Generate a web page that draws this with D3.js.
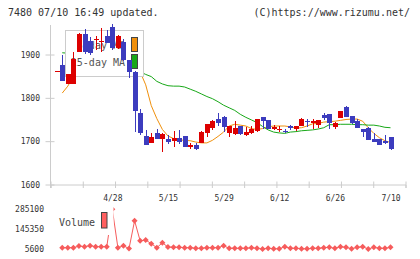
<!DOCTYPE html>
<html>
<head>
<meta charset="utf-8">
<script src="https://cdn.jsdelivr.net/npm/d3@7"></script>
<style>
  body { margin: 0; background: #fff; }
  svg { display: block; font-family: "DejaVu Sans Mono", monospace; }
</style>
</head>
<body>
<div id="chart"></div>
<script>
// trading days 2025/04/14 .. 2025/07/10
const dates = ["4/14","4/15","4/16","4/17","4/18","4/21","4/22","4/23","4/24","4/25",
  "4/28","4/30","5/1","5/2","5/7","5/8","5/9","5/12","5/13","5/14",
  "5/15","5/16","5/19","5/20","5/21","5/22","5/23","5/26","5/27","5/28",
  "5/29","5/30","6/2","6/3","6/4","6/5","6/6","6/9","6/10","6/11",
  "6/12","6/13","6/16","6/17","6/18","6/19","6/20","6/23","6/24","6/25",
  "6/26","6/27","6/30","7/1","7/2","7/3","7/4","7/7","7/8","7/9","7/10"];

const open = [1861,1875,1833,1833,1906,1948,1931,1934,1928,1942,
  1964,1914,1929,1887,1860,1764,1711,1696,1719,1704,
  1704,1700,1707,1711,1687,1691,1696,1719,1731,1751,
  1756,1718,1716,1734,1714,1719,1724,1755,1748,1729,
  1727,1723,1734,1729,1734,1747,1742,1737,1760,1762,
  1733,1754,1778,1758,1746,1728,1731,1704,1704,1700,1710];
const high = [1861,1898,1856,1906,1949,1958,1940,1942,1961,1956,
  1970,1944,1935,1888,1861,1775,1725,1720,1727,1720,
  1714,1723,1725,1712,1696,1695,1724,1740,1748,1765,
  1757,1735,1746,1735,1733,1734,1752,1756,1749,1738,
  1734,1729,1738,1735,1754,1751,1751,1749,1764,1763,
  1744,1770,1781,1758,1752,1728,1732,1718,1705,1714,1710];
const low = [1861,1839,1833,1833,1905,1902,1898,1910,1906,1927,
  1910,1912,1886,1845,1722,1714,1692,1696,1705,1675,
  1693,1687,1693,1686,1683,1679,1695,1710,1725,1734,
  1721,1710,1715,1714,1713,1716,1722,1727,1728,1725,
  1721,1718,1725,1724,1734,1733,1728,1731,1748,1729,
  1729,1753,1755,1740,1731,1710,1702,1698,1692,1694,1680];
const close = [1861,1839,1855,1889,1948,1906,1904,1935,1932,1927,
  1914,1943,1887,1860,1770,1719,1692,1710,1706,1716,
  1697,1707,1697,1687,1691,1683,1721,1739,1747,1742,
  1733,1734,1731,1716,1721,1727,1751,1746,1729,1733,
  1728,1722,1731,1734,1751,1746,1747,1748,1754,1741,
  1743,1769,1756,1741,1731,1721,1702,1698,1692,1695,1681];

const ma5 = [null,1811,1827,1850,1878,1887,1900,1916,1925,1921,
  1922,1930,1921,1906,1875,1860,1830,1782,1752,1727,
  1712,1706,1703,1702,1701,1698,1696,1696,1702,1711,
  1721,1735,1739,1737,1735,1729,1727,1729,1733,1735,
  1735,1735,1733,1730,1731,1735,1740,1741,1744,1745,
  1746,1748,1750,1751,1751,1746,1731,1718,1708,1701,1697];
const ma25 = [null,1904,1903,1901,1900,1899,1898,1897,1896,1895,
  1893,1891,1886,1879,1870,1860,1854,1849,1838,1832,
  1828,1827,1827,1825,1820,1815,1809,1803,1798,1791,
  1783,1777,1771,1762,1755,1749,1743,1734,1726,1721,
  1719,1718,1721,1722,1724,1725,1726,1728,1731,1738,
  1738,1739,1739,1739,1738,1738,1737,1737,1735,1732,1731];

const volume = [null,14800,14800,14800,26000,21800,28800,21800,21800,21800,
  285100,14800,28800,8400,204800,63000,69000,43000,14800,50000,
  19000,17600,17600,14800,14800,10500,10500,14800,14800,14800,
  28800,10500,10500,10500,10500,14800,10500,5600,10500,7000,
  7000,21800,10500,10500,7000,7000,10500,10500,14800,17600,
  10500,21800,17600,7000,17600,21800,5600,17600,10500,10500,17600];

const priceTicks = [1600, 1700, 1800, 1900];
const volumeTicks = [5600, 145350, 285100];
const dateLabels = ["4/28", "5/15", "5/29", "6/12", "6/26", "7/10"];
const legendItems = [{ name: "5-day MA", color: "#f0900c" }, { name: "25-day MA", color: "#18a818" }];

const width = 420, height = 259;
const upColor = "#dd0000", downColor = "#3c3cbe", volColor = "#f65c5c", axisColor = "#cccccc";

const svg = d3.select("#chart").append("svg")
  .attr("width", width)
  .attr("height", height);

// scales
const xScale = d3.scaleLinear().domain([0, dates.length - 1]).range([56.7, 390.5]);
const yScale = d3.scaleLinear().domain([1600, 1900]).range([184.5, 54.5]);
const vScale = d3.scaleLinear().domain([5600, 285100]).range([249, 209.3]);
const gridScale = d3.scaleLinear().domain([0, 11]).range([50.5, 405.5]);
const px = i => Math.round(xScale(i)) + 0.5;

// header
svg.append("text").attr("x", 8).attr("y", 15.5)
  .attr("font-size", 10).attr("fill", "#333")
  .text("7480 07/10 16:49 updated.");
svg.append("text").attr("x", 410).attr("y", 15.5)
  .attr("text-anchor", "end").attr("font-size", 10).attr("fill", "#333")
  .text("(C)https://www.rizumu.net/");

// y axis
const yAxis = d3.axisLeft(yScale).tickValues(priceTicks).tickFormat(d => String(d))
  .tickSize(5).tickPadding(5.5);
svg.append("g")
  .attr("transform", "translate(50.5,0)")
  .call(yAxis)
  .call(g => g.select(".domain").remove())
  .call(g => g.selectAll(".tick line").attr("x1", 4).attr("x2", -5).attr("stroke", axisColor))
  .call(g => g.selectAll(".tick text").attr("fill", "#333").attr("font-size", 8)
    .attr("font-family", "DejaVu Sans Mono"));
svg.append("line")
  .attr("x1", 50.5).attr("x2", 50.5)
  .attr("y1", 25).attr("y2", 188)
  .attr("stroke", axisColor);

// x axis (grid ticks + labels at candle dates)
const gridAxis = d3.axisBottom(gridScale).tickValues(d3.range(12)).tickFormat("").tickSizeOuter(0).tickSize(3.5);
svg.append("g")
  .attr("transform", "translate(0,184.5)")
  .call(gridAxis)
  .call(g => g.select(".domain").attr("stroke", axisColor))
  .call(g => g.selectAll(".tick line").attr("y1", -3).attr("stroke", axisColor));

const xAxis = d3.axisBottom(xScale)
  .tickValues(dateLabels.map(d => dates.indexOf(d)))
  .tickFormat(i => dates[i])
  .tickSize(0).tickPadding(11.3);
svg.append("g")
  .attr("transform", "translate(0,184.5)")
  .call(xAxis)
  .call(g => g.select(".domain").remove())
  .call(g => g.selectAll(".tick text").attr("fill", "#333").attr("font-size", 8)
    .attr("font-family", "DejaVu Sans Mono"));

// moving averages
const maLine = d3.line()
  .defined(d => d != null)
  .x((d, i) => xScale(i))
  .y(d => yScale(d));
svg.append("path").attr("d", maLine(ma5))
  .attr("fill", "none").attr("stroke", legendItems[0].color).attr("stroke-width", 1);
svg.append("path").attr("d", maLine(ma25))
  .attr("fill", "none").attr("stroke", legendItems[1].color).attr("stroke-width", 1);

// legend (drawn under the candles)
const legend = svg.append("g");
legend.append("rect")
  .attr("x", 65.5).attr("y", 30.5).attr("width", 78).attr("height", 46)
  .attr("fill", "#fff").attr("stroke", axisColor);
legend.selectAll("text.leg")
  .data(legendItems)
  .join("text")
  .attr("class", "leg")
  .attr("x", 125).attr("y", (d, i) => 49 + i * 17)
  .attr("text-anchor", "end").attr("font-size", 10).attr("fill", "#555")
  .text(d => d.name);
legend.selectAll("rect.sw")
  .data(legendItems)
  .join("rect")
  .attr("class", "sw")
  .attr("x", 131.5).attr("y", (d, i) => 37.5 + i * 17)
  .attr("width", 6).attr("height", 14)
  .attr("fill", d => d.color).attr("stroke", "#444");

// candles
const idx = d3.range(dates.length);
const candles = svg.append("g").attr("shape-rendering", "crispEdges");
candles.selectAll("line.wick")
  .data(idx)
  .join("line")
  .attr("class", "wick")
  .attr("x1", px).attr("x2", px)
  .attr("y1", i => yScale(high[i])).attr("y2", i => yScale(low[i]))
  .attr("stroke", i => close[i] >= open[i] ? upColor : downColor);
candles.selectAll("rect.body")
  .data(idx)
  .join("rect")
  .attr("class", "body")
  .attr("x", i => px(i) - 2.5)
  .attr("width", 5)
  .attr("y", i => yScale(Math.max(open[i], close[i])))
  .attr("height", i => Math.max(1, Math.abs(yScale(open[i]) - yScale(close[i]))))
  .attr("fill", i => close[i] >= open[i] ? upColor : downColor);

// volume
const vAxis = d3.axisLeft(vScale).tickValues(volumeTicks).tickFormat(d => String(d))
  .tickSize(0).tickPadding(6.5);
svg.append("g")
  .attr("transform", "translate(50.5,0)")
  .call(vAxis)
  .call(g => g.select(".domain").remove())
  .call(g => g.selectAll(".tick text").attr("fill", "#333").attr("font-size", 8)
    .attr("font-family", "DejaVu Sans Mono"));

const volLine = d3.line()
  .defined(d => d != null)
  .x((d, i) => xScale(i))
  .y(d => vScale(d));
svg.append("path").attr("d", volLine(volume))
  .attr("fill", "none").attr("stroke", volColor).attr("stroke-width", 1);
svg.selectAll("path.vdot")
  .data(idx.filter(i => volume[i] != null))
  .join("path")
  .attr("class", "vdot")
  .attr("d", d3.symbol(d3.symbolSquare, 18))
  .attr("transform", i => `translate(${xScale(i)},${vScale(volume[i])}) rotate(45)`)
  .attr("fill", volColor);

// volume legend, white box on top of the line
svg.append("rect")
  .attr("x", 54).attr("y", 203).attr("width", 59.5).attr("height", 32)
  .attr("fill", "#fff");
svg.append("text")
  .attr("x", 59).attr("y", 225.5)
  .attr("font-size", 10).attr("fill", "#444")
  .text("Volume");
svg.append("rect")
  .attr("x", 101.5).attr("y", 212.5).attr("width", 5.5).attr("height", 15.5)
  .attr("fill", "#ff6060").attr("stroke", "#444");
</script>
</body>
</html>
